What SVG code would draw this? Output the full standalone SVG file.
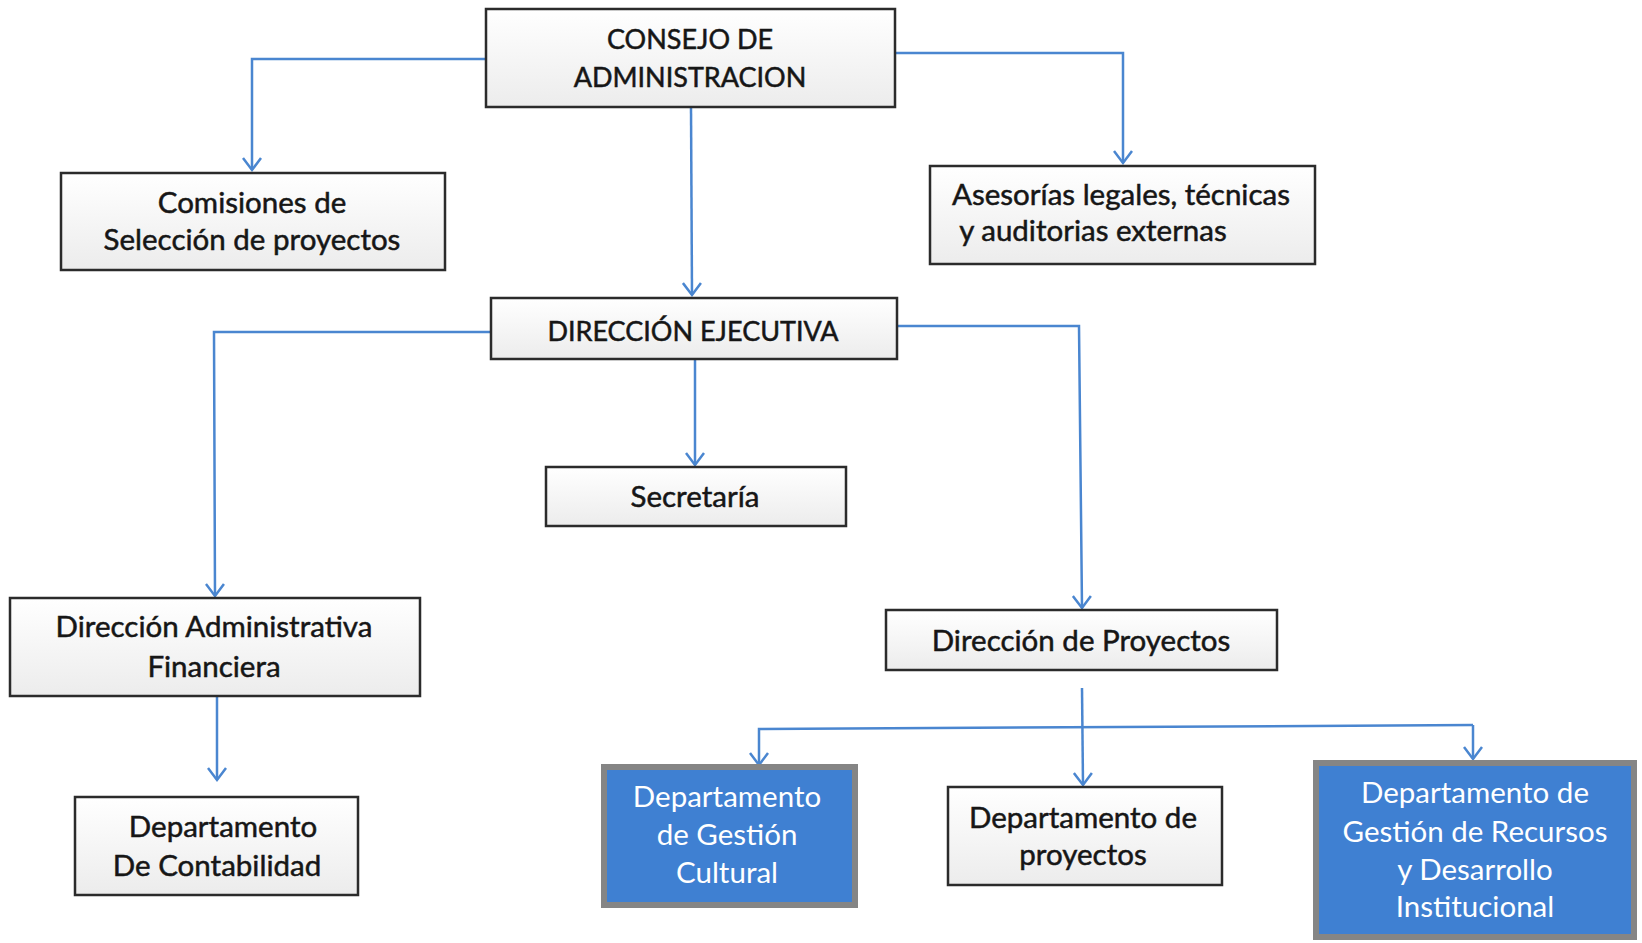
<svg xmlns="http://www.w3.org/2000/svg" width="1642" height="943" viewBox="0 0 1642 943">
<style>
.box{fill:url(#wg);stroke:#2b2b2b;stroke-width:2.5}
.bbox{fill:#3f80d2;stroke:#858585;stroke-width:6}
.t{font-family:Lato,"Liberation Sans",sans-serif;font-size:29.5px;fill:#161616;stroke:#161616;stroke-width:0.5;text-anchor:middle}
.caps{font-size:27px}
.tw{font-family:Lato,"Liberation Sans",sans-serif;font-size:29.5px;fill:#ffffff;text-anchor:middle}
.c{fill:none;stroke:#4a86d0;stroke-width:2.5}
</style>
<defs>
<linearGradient id="wg" x1="0" y1="0" x2="0" y2="1">
<stop offset="0" stop-color="#ffffff"/>
<stop offset="1" stop-color="#ececec"/>
</linearGradient>
<marker id="ar" markerWidth="16" markerHeight="20" refX="13" refY="10" orient="auto" markerUnits="userSpaceOnUse">
<path d="M1,1 L13,10 L1,19" fill="none" stroke="#4a86d0" stroke-width="2.5"/>
</marker>
</defs>
<rect width="1642" height="943" fill="#ffffff"/>
<g id="connectors">
<polyline class="c" points="486,59 252,59 252,170" marker-end="url(#ar)"/>
<polyline class="c" points="895,53 1123,53 1123,163" marker-end="url(#ar)"/>
<polyline class="c" points="691,108 692,295" marker-end="url(#ar)"/>
<polyline class="c" points="491,332 214,332 215,596" marker-end="url(#ar)"/>
<polyline class="c" points="695,359 695,465" marker-end="url(#ar)"/>
<polyline class="c" points="897,326 1079,326 1082,608" marker-end="url(#ar)"/>
<polyline class="c" points="217,687 217,780" marker-end="url(#ar)"/>
<polyline class="c" points="1082,688 1083,785" marker-end="url(#ar)"/>
<polyline class="c" points="1473,725 759,729 759,765" marker-end="url(#ar)"/>
<polyline class="c" points="1473,725 1473,759" marker-end="url(#ar)"/>
</g>
<g id="consejo">
<rect class="box" x="486" y="9" width="409" height="98"/>
<text class="t caps" x="690" y="49">CONSEJO DE</text>
<text class="t caps" x="690" y="87">ADMINISTRACION</text>
</g>
<g id="comisiones">
<rect class="box" x="61" y="173" width="384" height="97"/>
<text class="t" x="252" y="213">Comisiones de</text>
<text class="t" x="252" y="250">Selección de proyectos</text>
</g>
<g id="asesorias">
<rect class="box" x="930" y="166" width="385" height="98"/>
<text class="t" x="1121" y="205">Asesorías legales, técnicas</text>
<text class="t" x="1093" y="241">y auditorias externas</text>
</g>
<g id="direccion-ejecutiva">
<rect class="box" x="491" y="298" width="406" height="61"/>
<text class="t caps" x="693" y="341">DIRECCIÓN EJECUTIVA</text>
</g>
<g id="secretaria">
<rect class="box" x="546" y="467" width="300" height="59"/>
<text class="t" x="695" y="507">Secretaría</text>
</g>
<g id="direccion-administrativa">
<rect class="box" x="10" y="598" width="410" height="98"/>
<text class="t" x="214" y="637">Dirección Administrativa</text>
<text class="t" x="214" y="677">Financiera</text>
</g>
<g id="direccion-proyectos">
<rect class="box" x="886" y="610" width="391" height="60"/>
<text class="t" x="1081" y="651">Dirección de Proyectos</text>
</g>
<g id="contabilidad">
<rect class="box" x="75" y="797" width="283" height="98"/>
<text class="t" x="223" y="837">Departamento</text>
<text class="t" x="217" y="876">De Contabilidad</text>
</g>
<g id="gestion-cultural">
<rect class="bbox" x="604" y="767" width="251" height="138"/>
<text class="tw" x="727" y="807">Departamento</text>
<text class="tw" x="727" y="845">de Gestión</text>
<text class="tw" x="727" y="883">Cultural</text>
</g>
<g id="depto-proyectos">
<rect class="box" x="948" y="787" width="274" height="98"/>
<text class="t" x="1083" y="828">Departamento de</text>
<text class="t" x="1083" y="865">proyectos</text>
</g>
<g id="gestion-recursos">
<rect class="bbox" x="1316" y="763" width="318" height="174"/>
<text class="tw" x="1475" y="803">Departamento de</text>
<text class="tw" x="1475" y="842">Gestión de Recursos</text>
<text class="tw" x="1475" y="880">y Desarrollo</text>
<text class="tw" x="1475" y="917">Institucional</text>
</g>
</svg>
